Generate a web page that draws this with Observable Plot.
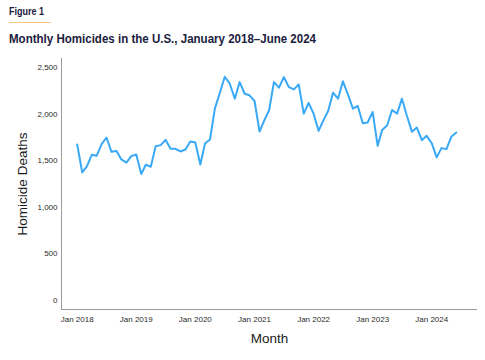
<!DOCTYPE html>
<html><head><meta charset="utf-8">
<script src="https://cdn.jsdelivr.net/npm/d3@7"></script>
<script src="https://cdn.jsdelivr.net/npm/@observablehq/plot@0.6"></script>
<style>
body{margin:0;background:#fff;font-family:"Liberation Sans",Arial,sans-serif;width:485px;height:360px;overflow:hidden;position:relative}
#fig{position:absolute;left:9px;top:6px;font-weight:bold;font-size:10px;color:#1b2040;transform-origin:left top}
#rule{position:absolute;left:9px;top:22px;width:42px;height:1px;background:#f7c77d}
#title{position:absolute;left:9px;top:31px;font-weight:bold;font-size:13.5px;color:#1b2040;white-space:nowrap;transform-origin:left top}
#chart{position:absolute;left:0;top:50px}
</style>
</head><body>
<div id="fig">Figure 1</div>
<div id="rule"></div>
<div id="title">Monthly Homicides in the U.S., January 2018–June 2024</div>
<div id="chart"></div>
<script>
const firstMonth = [2018, 0];
const lastMonth = [2024, 5];
const homicides = [
  1675, 1375, 1436, 1564, 1553, 1679, 1750, 1596, 1604, 1514, 1479, 1550,
  1568, 1357, 1457, 1436, 1657, 1668, 1725, 1628, 1628, 1600, 1621, 1707,
  1696, 1460, 1686, 1729, 2064, 2232, 2404, 2329, 2168, 2346, 2221, 2204,
  2143, 1814, 1929, 2043, 2346, 2286, 2400, 2293, 2268, 2321, 2007, 2121,
  2007, 1821, 1929, 2036, 2232, 2168, 2355, 2214, 2061, 2089, 1904, 1911,
  2025, 1661, 1832, 1882, 2046, 2007, 2168, 1982, 1811, 1857, 1721, 1768,
  1689, 1536, 1636, 1625, 1757, 1804
];
const yTicks = [0, 500, 1000, 1500, 2000, 2500];
const xTickYears = [2018, 2019, 2020, 2021, 2022, 2023, 2024];
const yLabel = "Homicide Deaths";
const xLabel = "Month";

const xDomain = [new Date(Date.UTC(2017, 8, 26)), new Date(Date.UTC(2024, 9, 10))];
const yDomain = [-100, 2600];
const months = d3.utcMonth.range(
  new Date(Date.UTC(firstMonth[0], firstMonth[1], 1)),
  new Date(Date.UTC(lastMonth[0], lastMonth[1] + 1, 1))
);
const data = months.map((m, i) => ({month: m, deaths: homicides[i]}));
const xTicks = xTickYears.map(y => new Date(Date.UTC(y, 0, 1)));

const chart = Plot.plot({
  width: 485, height: 310,
  marginTop: 8, marginBottom: 51, marginLeft: 61, marginRight: 8,
  style: {fontFamily: '"Liberation Sans", Arial, sans-serif', fontSize: "8px", color: "#2a2a2a", background: "transparent"},
  x: {type: "utc", domain: xDomain},
  y: {domain: yDomain},
  marks: [
    Plot.ruleX([xDomain[0]], {stroke: "#9a9a9a", strokeWidth: 1}),
    Plot.ruleY([yDomain[0]], {stroke: "#9a9a9a", strokeWidth: 1}),
    Plot.axisY({ticks: yTicks, tickSize: 0, tickPadding: 4, tickFormat: d3.format(","), label: null}),
    Plot.axisX({ticks: xTicks, tickSize: 0, tickPadding: 7, tickFormat: d3.utcFormat("%b %Y"), label: null}),
    Plot.line(data, {x: "month", y: "deaths", stroke: "#3aa9f5", strokeWidth: 2}),
    Plot.text([yLabel], {frameAnchor: "left", rotate: -90, dx: -39, fontSize: 13.5, fill: "#1a1a1a", textAnchor: "middle", lineAnchor: "middle"}),
    Plot.text([xLabel], {frameAnchor: "bottom", dy: 29, fontSize: 13.5, fill: "#1a1a1a", textAnchor: "middle", lineAnchor: "middle"})
  ]
});
document.getElementById("chart").appendChild(chart);

// condense header texts horizontally to the reference widths
function fit(id, target) {
  const el = document.getElementById(id);
  const w = el.getBoundingClientRect().width;
  if (w > target) el.style.transform = `scaleX(${target / w})`;
}
fit("title", 307);
fit("fig", 35);
</script>
</body></html>
